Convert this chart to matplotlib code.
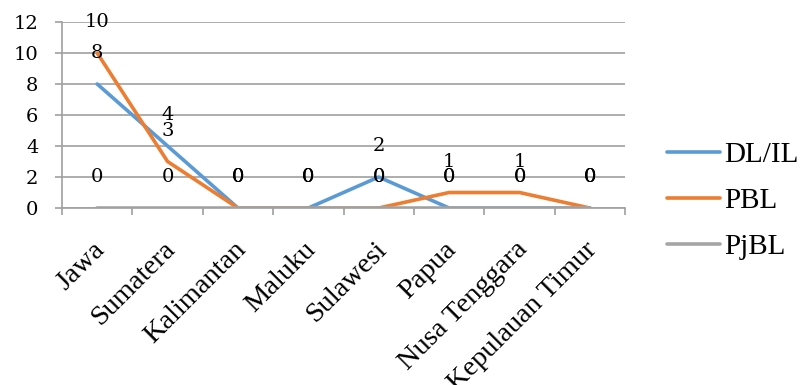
import matplotlib
matplotlib.use("Agg")
import matplotlib.pyplot as plt
import matplotlib.transforms as mtransforms
import numpy as np

categories = ["Jawa", "Sumatera", "Kalimantan", "Maluku", "Sulawesi",
              "Papua", "Nusa Tenggara", "Kepulauan Timur"]
dl_il = [8, 4, 0, 0, 2, 0, 0, 0]
pbl = [10, 3, 0, 0, 0, 1, 1, 0]
pjbl = [0, 0, 0, 0, 0, 0, 0, 0]

series = [("DL/IL", dl_il, "#5B9BD5"),
          ("PBL", pbl, "#ED7D31"),
          ("PjBL", pjbl, "#A5A5A5")]

plt.rcParams["font.family"] = ["Liberation Serif", "DejaVu Serif"]
num_font = ["DejaVu Serif"]

fig = plt.figure(figsize=(8.01, 3.85), dpi=100)
ax = fig.add_axes([0.0774, 0.4597, 0.7029, 0.4832])

x = np.arange(len(categories))
for name, vals, color in series:
    ax.plot(x, vals, color=color, linewidth=2.6, label=name, solid_capstyle="round")
    for xi, v in zip(x, vals):
        ax.annotate(str(v), (xi, v), textcoords="offset points", xytext=(0, 22),
                    ha="center", va="center", fontsize=14, family=num_font)

ax.set_xlim(-0.5, len(categories) - 0.5)
ax.set_ylim(0, 12)
ax.set_yticks(range(0, 13, 2))
ax.yaxis.grid(True, color="#A0A0A0", linewidth=1.2)
ax.set_axisbelow(True)
for lbl in ax.get_yticklabels():
    lbl.set_family(num_font)
    lbl.set_fontsize(14)

ax.set_xticks(x)
ax.set_xticklabels(categories, rotation=45, ha="right", va="top",
                   rotation_mode="anchor", fontsize=20.5)
ax.set_xticks(np.arange(-0.5, len(categories), 1), minor=True)
ax.tick_params(axis="x", which="major", length=0, pad=21)
ax.tick_params(axis="x", which="minor", length=5, width=1.2, color="#A0A0A0", direction="out")
ax.tick_params(axis="y", length=5, width=1.2, color="#A0A0A0", pad=12)

# nudge the rotated labels a little left (after tick_params, which resets transforms)
shift = mtransforms.ScaledTranslation(-5 / 100, 0, fig.dpi_scale_trans)
for tick in ax.xaxis.get_major_ticks():
    tick.label1.set_transform(tick.label1.get_transform() + shift)

for side in ["top", "right"]:
    ax.spines[side].set_visible(False)
for side in ["left", "bottom"]:
    ax.spines[side].set_color("#A0A0A0")
    ax.spines[side].set_linewidth(1.2)

ax.legend(loc="center left", bbox_to_anchor=(0.833, 0.478), bbox_transform=fig.transFigure,
          frameon=False, fontsize=21, handlelength=1.8, handletextpad=0.15,
          labelspacing=0.68, borderpad=0, borderaxespad=0)

fig.savefig("out.png", dpi=100)
